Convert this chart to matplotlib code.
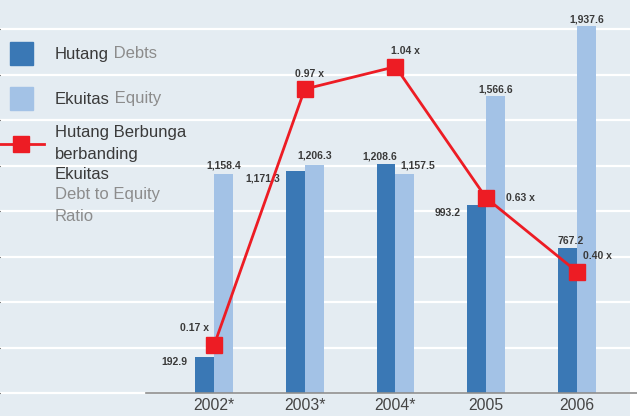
import matplotlib.pyplot as plt
import numpy as np

plt.rcParams['font.family'] = ['Liberation Sans', 'DejaVu Sans']

# Data
years = ['2002*', '2003*', '2004*', '2005', '2006']
debts = [192.9, 1171.3, 1208.6, 993.2, 767.2]
equity = [1158.4, 1206.3, 1157.5, 1566.6, 1937.6]
ratio = [0.17, 0.97, 1.04, 0.63, 0.40]

# Colors
bg = '#e4ecf2'
dark_blue = '#3a78b5'
light_blue = '#a3c2e6'
red = '#ed1c24'
txt_dark = '#3a3a3a'
txt_gray = '#8c8c8c'

W, H = 637, 416
fig = plt.figure(figsize=(W / 100, H / 100), dpi=100)
fig.patch.set_facecolor('white')

ax = fig.add_axes([0, 0, 630 / W, 1])
ax.set_facecolor(bg)
for s in ax.spines.values():
    s.set_visible(False)

x = np.arange(len(years))
w = 0.209
ax.bar(x - w / 2, debts, w, color=dark_blue, zorder=2)
ax.bar(x + w / 2, equity, w, color=light_blue, zorder=2)

ax.set_yticks(np.arange(0, 2161, 240))
ax.set_xticks([])
ax.set_xlim(-2.358, 4.584)
ax.set_ylim(-121, 2075)
ax.yaxis.grid(True, color='white', linewidth=1.6, zorder=0)
ax.tick_params(left=False, labelleft=False)
ax.set_axisbelow(True)

# baseline
ax.axhline(0, xmin=146 / 630, xmax=637 / 630, color='#8e8e8e', linewidth=1.2,
           clip_on=False, zorder=3)

# year labels
for xi, lab in zip(x, years):
    ax.text(xi, -63, lab, ha='center', va='center', fontsize=11.3, color='#444444')

# bar value labels (offsets in pixels from bar top-centre)
debt_off = [(-17, -5, 'right'), (-15, -7, 'right'), (-6, 8, 'center'),
            (-16, -8, 'right'), (3, 7, 'center')]
eq_off = [(0, 8, 'center'), (0, 9, 'center'), (13, 8, 'center'),
          (0, 7, 'center'), (0, 7, 'center')]
for xi, v, (dx, dy, ha) in zip(x, debts, debt_off):
    ax.annotate('{:,.1f}'.format(v), (xi - w / 2, v), xytext=(dx, dy),
                textcoords='offset pixels', ha=ha, va='center', fontsize=7.5,
                fontweight='bold', color=txt_dark, zorder=4)
for xi, v, (dx, dy, ha) in zip(x, equity, eq_off):
    ax.annotate('{:,.1f}'.format(v), (xi + w / 2, v), xytext=(dx, dy),
                textcoords='offset pixels', ha=ha, va='center', fontsize=7.5,
                fontweight='bold', color=txt_dark, zorder=4)

# ratio line on secondary axis
ax2 = ax.twinx()
ax2.set_ylim(-0.05, 1.248)
ax2.axis('off')
ax2.plot(x, ratio, color=red, linewidth=2, marker='s', markersize=11.5, zorder=5)
ratio_off = [(-19, 17, 'center'), (5, 15, 'center'), (10, 16, 'center'),
             (20, 0, 'left'), (6, 16, 'left')]
for xi, r, (dx, dy, ha) in zip(x, ratio, ratio_off):
    ax2.annotate('{:.2f} x'.format(r), (xi, r), xytext=(dx, dy),
                 textcoords='offset pixels', ha=ha, va='center', fontsize=7.5,
                 fontweight='bold', color=txt_dark)


# legend, drawn in figure pixel coordinates
def fx(px):
    return px / W


def fy(py):
    return 1 - py / H


fig.patches.append(plt.Rectangle((fx(10), fy(65)), 23 / W, 23 / H, color=dark_blue,
                                 transform=fig.transFigure, figure=fig))
fig.patches.append(plt.Rectangle((fx(10), fy(110)), 23 / W, 23 / H, color=light_blue,
                                 transform=fig.transFigure, figure=fig))
fig.lines.append(plt.Line2D([fx(0), fx(44)], [fy(144), fy(144)], color=red,
                            linewidth=2, transform=fig.transFigure, figure=fig))
fig.lines.append(plt.Line2D([fx(21)], [fy(144)], color=red, marker='s',
                            markersize=11.5, transform=fig.transFigure, figure=fig))

t1 = fig.text(fx(55), fy(54), 'Hutang', fontsize=12, color=txt_dark, va='center')
ax.annotate(' Debts', xy=(1, 0.5), xycoords=t1, va='center', fontsize=12,
            color=txt_gray, annotation_clip=False)
t2 = fig.text(fx(55), fy(99), 'Ekuitas', fontsize=12, color=txt_dark, va='center')
ax.annotate(' Equity', xy=(1, 0.5), xycoords=t2, va='center', fontsize=12,
            color=txt_gray, annotation_clip=False)

ratio_lines = [('Hutang Berbunga', txt_dark, 133), ('berbanding', txt_dark, 154),
               ('Ekuitas', txt_dark, 175), ('Debt to Equity', txt_gray, 195),
               ('Ratio', txt_gray, 216)]
for s, c, py in ratio_lines:
    fig.text(fx(55), fy(py), s, fontsize=12, color=c, va='center')

fig.savefig('out.png', dpi=100, facecolor='white')
